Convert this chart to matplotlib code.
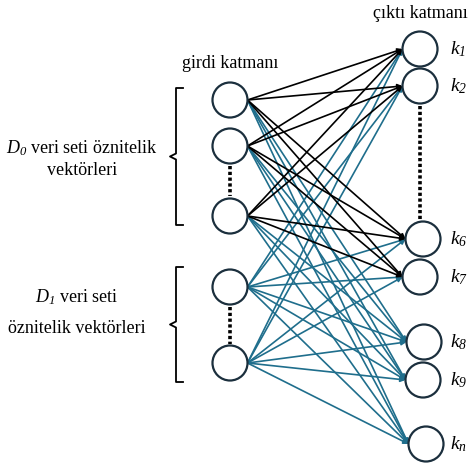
import matplotlib.pyplot as plt
from matplotlib.patches import Circle, FancyArrowPatch

plt.rcParams["font.family"] = "Liberation Serif"
plt.rcParams["mathtext.fontset"] = "custom"
# math here is only labels like k_1, D_0: everything italic, as in the figure
plt.rcParams["mathtext.rm"] = "Liberation Serif:italic"
plt.rcParams["mathtext.it"] = "Liberation Serif:italic"

# node layout (pixel units, y downward)
input_y = [100, 146, 216, 287, 363]
input_x = 230
output_labels = ["1", "2", "6", "7", "8", "9", "n"]
output_y = [49, 86, 239, 277, 342, 380, 444]
output_x = [420, 420, 423, 420, 424, 423, 426]
R = 17.5

# which inputs feed which outputs in black (D0 -> k1,k2,k6,k7); rest blue
d0_inputs = [0, 1, 2]
black_outputs = [0, 1, 2, 3]

BLUE = "#1f6e8c"
EDGE = "#1b2f3d"

fig = plt.figure(figsize=(4.68, 4.65), dpi=100)
ax = fig.add_axes([0, 0, 1, 1])
ax.set_xlim(0, 468)
ax.set_ylim(465, 0)
ax.axis("off")


def arrow(i, j, color, z):
    a = FancyArrowPatch((input_x + R, input_y[i]), (output_x[j] - R, output_y[j]),
                        arrowstyle="-|>", mutation_scale=7, shrinkA=0, shrinkB=0,
                        color=color, lw=1.2, zorder=z)
    ax.add_patch(a)


for i in range(len(input_y)):
    for j in range(len(output_y)):
        if i in d0_inputs and j in black_outputs:
            continue
        arrow(i, j, BLUE, 1)
for i in d0_inputs:
    for j in black_outputs:
        arrow(i, j, "black", 2)

for y in input_y:
    ax.add_patch(Circle((input_x, y), R, facecolor="white", edgecolor=EDGE, lw=1.6, zorder=5))
for x, y in zip(output_x, output_y):
    ax.add_patch(Circle((x, y), R, facecolor="white", edgecolor=EDGE, lw=1.6, zorder=5))

# dotted separators
dot = dict(color="black", lw=2.6, linestyle=(0, (0.9, 0.7)), zorder=4)
ax.plot([input_x, input_x], [input_y[1] + R + 3, input_y[2] - R - 3], **dot)
ax.plot([input_x, input_x], [input_y[3] + R + 2, input_y[4] - R - 2], **dot)
ax.plot([output_x[1], output_x[1]], [output_y[1] + R + 3, output_y[2] - R - 1], **dot)

for lab, x, y in zip(output_labels, output_x, output_y):
    ax.text(450, y, r"$k_{%s}$" % lab, fontsize=14, va="center", ha="left")

ax.text(input_x, 64, "girdi katmanı", fontsize=13, ha="center", va="center")
ax.text(420, 14, "çıktı katmanı", fontsize=13, ha="center", va="center")


def bracket(top, bottom):
    mid = (top + bottom) / 2
    xs = [183, 176, 176, 170, 176, 176, 183]
    ys = [top, top, mid - 3, mid, mid + 3, bottom, bottom]
    ax.plot(xs, ys, color="black", lw=1.3)


bracket(88, 225)
bracket(267, 382)

ax.text(82, 148, r"$D_{0}$ veri seti öznitelik", fontsize=13, ha="center", va="center")
ax.text(82, 170, "vektörleri", fontsize=13, ha="center", va="center")
ax.text(77, 297, r"$D_{1}$ veri seti", fontsize=13, ha="center", va="center")
ax.text(77, 328, "öznitelik vektörleri", fontsize=13, ha="center", va="center")

fig.savefig("out.png", dpi=100)
